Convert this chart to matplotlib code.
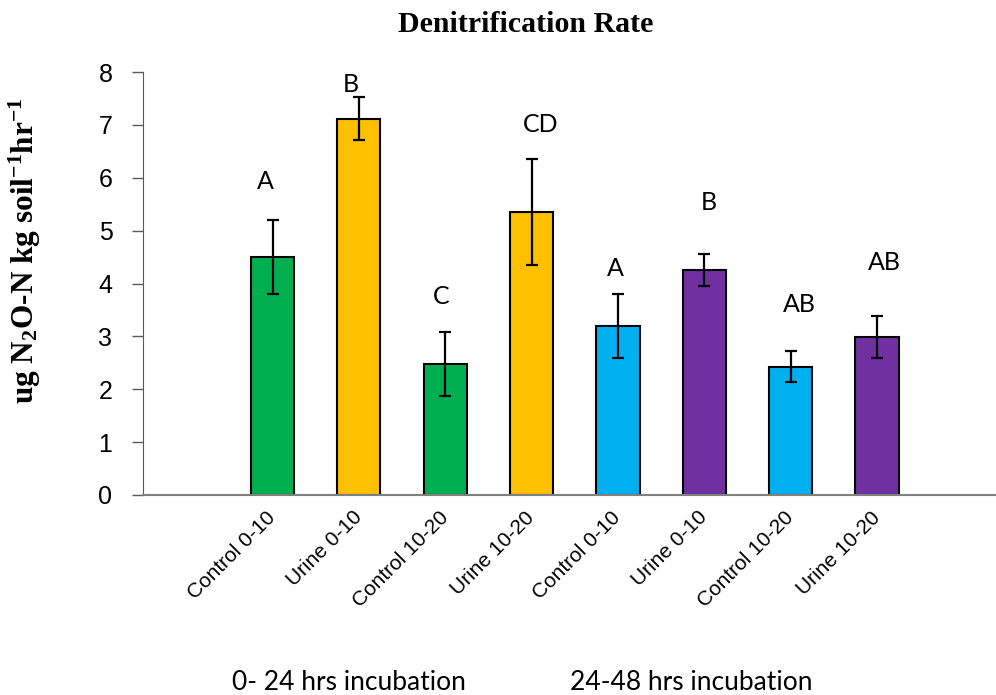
"""Denitrification rate bar chart with error bars and letter groups."""

import matplotlib
matplotlib.use("Agg")
import matplotlib.pyplot as plt

# data
categories = ["", "Control 0-10", "Urine 0-10", "Control 10-20", "Urine 10-20",
              "Control 0-10", "Urine 0-10", "Control 10-20", "Urine 10-20", ""]
rates = [4.50, 7.12, 2.48, 5.35, 3.20, 4.26, 2.43, 2.99]
errors = [0.70, 0.40, 0.60, 1.00, 0.60, 0.30, 0.30, 0.40]
groups = ["A", "B", "C", "CD", "A", "B", "AB", "AB"]
group_heights = [5.92, 7.77, 3.76, 7.01, 4.29, 5.53, 3.61, 4.39]
group_shift = [-0.08, -0.09, -0.05, 0.10, -0.03, 0.05, 0.10, 0.08]
colors = ["#00B050", "#FFC000", "#00B050", "#FFC000",
          "#00B0F0", "#7030A0", "#00B0F0", "#7030A0"]
periods = ["0- 24 hrs incubation", "24-48 hrs incubation"]

plt.rcParams["mathtext.fontset"] = "custom"
plt.rcParams["mathtext.rm"] = "Liberation Serif:bold"
plt.rcParams["mathtext.bf"] = "Liberation Serif:bold"
plt.rcParams["mathtext.it"] = "Liberation Serif:bold"

fig = plt.figure(figsize=(9.96, 6.95), dpi=100)
ax = fig.add_axes([143 / 996, 200 / 695, 863.6 / 996, 423 / 695])

x = list(range(1, len(rates) + 1))
ax.bar(x, rates, width=0.5, color=colors, edgecolor="black", linewidth=1.5,
       zorder=2)
ax.errorbar(x, rates, yerr=errors, fmt="none", ecolor="black", elinewidth=1.6,
            capsize=4, capthick=1.6, zorder=3)

for xi, g, h, dx in zip(x, groups, group_heights, group_shift):
    ax.text(xi + dx, h, g, ha="center", va="center", fontsize=18,
            family="Lato")

ax.set_xlim(-0.5, len(categories) - 0.5)
ax.set_ylim(0, 8)
ax.set_yticks(range(0, 9))
ax.set_xticks(range(len(categories)))
ax.set_xticklabels(categories, rotation=45, ha="right", va="center",
                   rotation_mode="anchor", fontsize=15,
                   family="Liberation Sans")
ax.tick_params(axis="x", length=0, pad=14)
ax.tick_params(axis="y", direction="out", length=8, width=1, color="#595959",
               labelsize=18, pad=14)
for lab in ax.get_yticklabels():
    lab.set_family("Liberation Sans")

for side in ["top", "right"]:
    ax.spines[side].set_visible(False)
ax.spines["left"].set_color("#595959")
ax.spines["bottom"].set_color("#808080")
ax.spines["bottom"].set_linewidth(1.5)

ax.set_ylabel(r"ug N$_\mathbf{2}$O-N kg soil$^\mathbf{-1}$hr$^\mathbf{-1}$",
              family="Liberation Serif", fontweight="bold", fontsize=22.5)
ax.yaxis.set_label_coords(-(143 - 43) / 863.6, (495 - 251) / 423)
fig.text(526 / 996, 1 - 25 / 695, "Denitrification Rate", ha="center",
         va="center", family="Liberation Serif", fontweight="bold",
         fontsize=21.5)

fig.text(349 / 996, 1 - 682 / 695, periods[0], ha="center", va="center",
         family="Lato", fontsize=19)
fig.text(691 / 996, 1 - 682 / 695, periods[1], ha="center", va="center",
         family="Lato", fontsize=19)

fig.savefig("out.png", dpi=100)
